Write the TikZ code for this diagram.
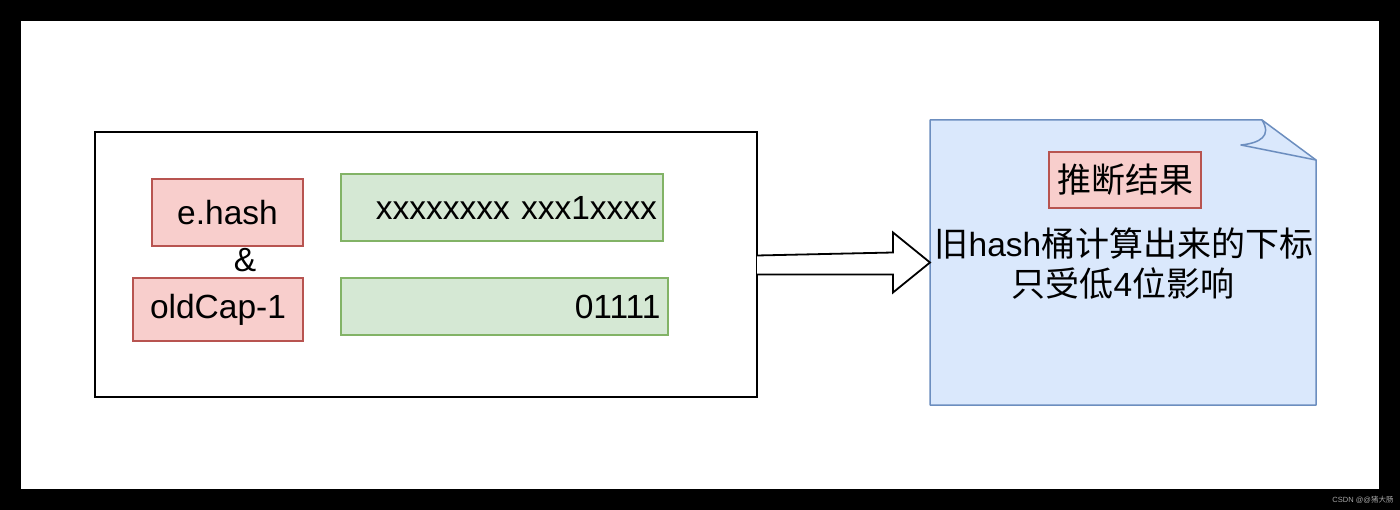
\documentclass[tikz,border=0pt]{standalone}
\usepackage{fontspec}
\usetikzlibrary{calc}
\setmainfont{Liberation Sans}
\newfontfamily\cjk{Noto Sans CJK SC}
\definecolor{redfill}{HTML}{F8CECC}
\definecolor{redline}{HTML}{B85450}
\definecolor{greenfill}{HTML}{D5E8D4}
\definecolor{greenline}{HTML}{82B366}
\definecolor{bluefill}{HTML}{DAE8FC}
\definecolor{blueline}{HTML}{6C8EBF}
\newcommand\cjkbig{\cjk\fontsize{34}{40}\selectfont}
\tikzset{
  base/.style={inner sep=0pt, outer sep=0pt, font=\fontsize{33.5}{40}\selectfont},
  redbox/.style={base, draw=redline, fill=redfill, line width=1.5pt},
  greenbox/.style={base, draw=greenline, fill=greenfill, line width=1.5pt, align=right},
  plain/.style={base},
}
\begin{document}
\begin{tikzpicture}[x=1pt,y=-1pt]
\useasboundingbox (0,0) rectangle (1400,510);
\fill[black] (0,0) rectangle (1400,510);
\fill[white] (21,21) rectangle (1379,489);
% left group
\node[base, draw=black, line width=1.8pt, minimum width=662pt, minimum height=265pt] (outer) at (426,264.5) {};
\node[redbox, minimum width=151pt, minimum height=67pt] (ehash) at (227.5,212.5) {e.hash};
\node[plain] (amp) at (245,260) {\&};
\node[redbox, minimum width=170pt, minimum height=63pt] (oldcap) at (218,309.5) {oldCap-1};
\node[greenbox, minimum width=322pt, minimum height=67pt, text width=310pt] (g1) at (502,207.5) {xxxxxxxx xxx1xxxx};
\node[greenbox, minimum width=327pt, minimum height=57pt, text width=312pt] (g2) at (504.5,306.5) {01111};
% note
\node[base, minimum width=386pt, minimum height=285pt] (note) at (1123,262.5) {};
\fill[bluefill] (note.north west) -- ($(note.north east)+(-54,0)$) -- ($(note.north east)+(0,40)$) -- (note.south east) -- (note.south west) -- cycle;
\draw[blueline, line width=1.5pt, line join=round] ($(note.north east)+(-54,0)$) -- (note.north west) -- (note.south west) -- (note.south east) -- ($(note.north east)+(0,40)$) -- cycle;
\draw[blueline, line width=1.5pt, line join=round] ($(note.north east)+(-54,0)$) .. controls ($(note.north east)+(-44,16)$) and ($(note.north east)+(-56,23)$) .. ($(note.north east)+(-75,25)$) -- ($(note.north east)+(0,40)$);
\node[redbox, minimum width=152pt, minimum height=56pt, font=\cjkbig] (title) at (1125,180) {推断结果};
\node[plain] (line1) at (1124,244) {{\cjkbig 旧}hash{\cjkbig 桶计算出来的下标}};
\node[plain] (line2) at (1123,284) {{\cjkbig 只受低}4{\cjkbig 位影响}};
% hollow arrow
\draw[black, line width=1.8pt, fill=white, line join=miter]
  ($(outer.east)+(0,-9)$) -- ($(note.west)+(-37,-10)$) -- ($(note.west)+(-37,-30)$) -- (note.west)
  -- ($(note.west)+(-37,30)$) -- ($(note.west)+(-37,12)$) -- ($(outer.east)+(0,10)$);
% watermark
\node[base, text=gray!70!white, font=\fontsize{7.5}{9}\selectfont] (wm) at (1363,500) {CSDN @@{\cjk 猪大肠}};
\end{tikzpicture}
\end{document}
